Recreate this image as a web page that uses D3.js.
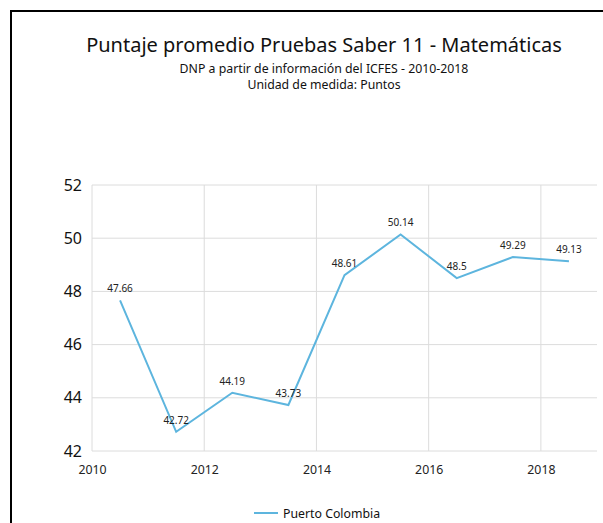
<!DOCTYPE html>
<html>
<head>
<meta charset="utf-8">
<script src="https://cdn.jsdelivr.net/npm/d3@7"></script>
<style>
body { margin: 0; background: #fff; }
svg { display: block; font-family: "Noto Sans", "Open Sans", sans-serif; }
</style>
</head>
<body>
<svg width="603" height="523"></svg>
<script>
var years = [2010.5, 2011.5, 2012.5, 2013.5, 2014.5, 2015.5, 2016.5, 2017.5, 2018.5];
var puntajes = [47.66, 42.72, 44.19, 43.73, 48.61, 50.14, 48.5, 49.29, 49.13];
var xTicks = [2010, 2012, 2014, 2016, 2018];
var yTicks = [42, 44, 46, 48, 50, 52];
var serieName = "Puerto Colombia";

var svg = d3.select("svg");

// marco
svg.append("path")
	.attr("d", "M11,523 L11,11 L603,11")
	.attr("fill", "none")
	.attr("stroke", "#000")
	.attr("stroke-width", 2);

svg.append("text")
	.attr("x", 324).attr("y", 52)
	.attr("text-anchor", "middle")
	.attr("font-size", 20)
	.attr("fill", "#111")
	.text("Puntaje promedio Pruebas Saber 11 - Matemáticas");
svg.append("text")
	.attr("x", 324).attr("y", 73)
	.attr("text-anchor", "middle")
	.attr("font-size", 12.3)
	.attr("fill", "#111")
	.text("DNP a partir de información del ICFES - 2010-2018");
svg.append("text")
	.attr("x", 324).attr("y", 89)
	.attr("text-anchor", "middle")
	.attr("font-size", 12.3)
	.attr("fill", "#111")
	.text("Unidad de medida: Puntos");

var x = d3.scaleLinear().domain([2010, 2019]).range([92, 597]);
var y = d3.scaleLinear().domain([42, 52]).range([451, 185]);

var g = svg.append("g");

// rejilla
g.selectAll(".hgrid")
	.data(yTicks)
	.enter()
	.append("line")
	.attr("x1", 92).attr("x2", 597)
	.attr("y1", function(d) { return y(d); })
	.attr("y2", function(d) { return y(d); })
	.attr("stroke", "#dcdcdc").attr("stroke-width", 1);

g.selectAll(".vgrid")
	.data(xTicks)
	.enter()
	.append("line")
	.attr("x1", function(d) { return x(d); })
	.attr("x2", function(d) { return x(d); })
	.attr("y1", 185).attr("y2", 451)
	.attr("stroke", "#dcdcdc").attr("stroke-width", 1);

var yAxis = g.append("g")
	.attr("transform", "translate(92,0)")
	.call(d3.axisLeft(y).tickValues(yTicks).tickSize(0).tickPadding(10));
yAxis.select(".domain").remove();
yAxis.selectAll("text")
	.attr("font-size", 16)
	.attr("font-family", "Noto Sans, sans-serif")
	.attr("fill", "#111");

var xAxis = g.append("g")
	.attr("transform", "translate(0,451)")
	.call(d3.axisBottom(x).tickValues(xTicks).tickFormat(d3.format("d")).tickSize(0).tickPadding(14));
xAxis.select(".domain").remove();
xAxis.selectAll("text")
	.attr("font-size", 12.3)
	.attr("font-family", "Noto Sans, sans-serif")
	.attr("fill", "#222");

var line = d3.line()
	.x(function(d, i) { return x(years[i]); })
	.y(function(d) { return y(d); });

g.append("path")
	.datum(puntajes)
	.attr("d", line)
	.attr("fill", "none")
	.attr("stroke", "#5db5de")
	.attr("stroke-width", 2);

g.selectAll(".label")
	.data(puntajes)
	.enter()
	.append("text")
	.attr("x", function(d, i) { return x(years[i]); })
	.attr("y", function(d) { return y(d) - 8; })
	.attr("text-anchor", "middle")
	.attr("font-size", 10)
	.attr("fill", "#222")
	.text(function(d) { return d; });

// leyenda
svg.append("line")
	.attr("x1", 254).attr("x2", 278)
	.attr("y1", 513).attr("y2", 513)
	.attr("stroke", "#5db5de").attr("stroke-width", 2);
svg.append("text")
	.attr("x", 283).attr("y", 518)
	.attr("font-size", 12.3)
	.attr("fill", "#111")
	.text(serieName);
</script>
</body>
</html>
